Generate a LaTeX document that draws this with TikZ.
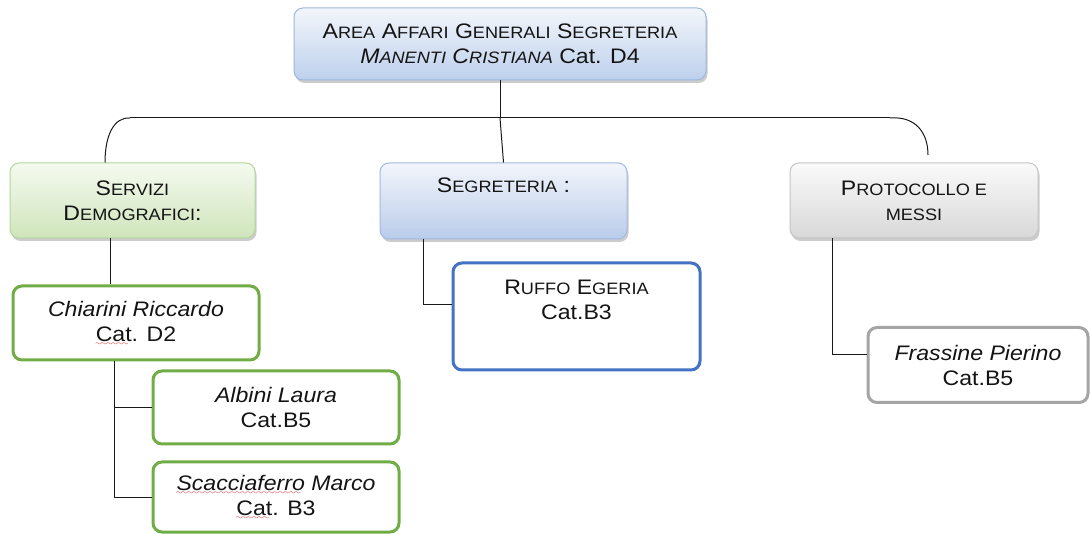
\documentclass[tikz,border=0pt]{standalone}
\usepackage{fontspec}
\setmainfont{Liberation Sans}[FakeStretch=1.1]
\usetikzlibrary{shadows}
\font\sixly=lasy7
\newcommand\redwave[1]{\leavevmode\setbox0\hbox{#1}\rlap{\copy0}\textcolor{red!85!black}{\lower4pt\hbox to\wd0{\leaders\hbox{\sixly\char58}\hfill}}}
\newcommand\smc[1]{{\fontsize{16.5}{25}\selectfont #1}}
\definecolor{topA}{HTML}{F3F6FB}\definecolor{topB}{HTML}{BDD0EC}\definecolor{topD}{HTML}{9CB6DC}
\definecolor{gA}{HTML}{F5FAF0}\definecolor{gB}{HTML}{CFE5BB}\definecolor{gD}{HTML}{B3D69A}
\definecolor{bA}{HTML}{F2F5FB}\definecolor{bB}{HTML}{BACCEB}\definecolor{bD}{HTML}{A2B9E2}
\definecolor{yA}{HTML}{FAFAFA}\definecolor{yB}{HTML}{D8D8D8}\definecolor{yD}{HTML}{C4C4C4}
\definecolor{pgreen}{HTML}{70AD47}\definecolor{pblue}{HTML}{4472C4}\definecolor{pgray}{HTML}{A5A5A5}
\definecolor{txt}{HTML}{141414}
\tikzset{
  base/.style={rectangle, rounded corners=9pt, align=center, inner sep=2pt,
    font=\fontsize{21}{25}\selectfont, text=txt},
  lvl/.style={base, line width=1pt, minimum width=246pt, minimum height=75pt,
    drop shadow={shadow xshift=1.5pt, shadow yshift=-3pt, opacity=0.4}},
  topbox/.style={lvl, draw=topD, top color=topA, bottom color=topB},
  greenbox/.style={lvl, draw=gD, top color=gA, bottom color=gB},
  bluebox/.style={lvl, draw=bD, top color=bA, bottom color=bB},
  graybox/.style={lvl, draw=yD, top color=yA, bottom color=yB},
  person/.style={base, fill=white, line width=3pt, minimum width=246pt, minimum height=73pt},
  conn/.style={draw=black!90, line width=1pt}
}
\begin{document}
\begin{tikzpicture}[x=1pt,y=-1pt]
\useasboundingbox (0,0) rectangle (1090,534);
% level nodes
\node[topbox, minimum width=412pt, minimum height=72pt] (top) at (500,44)
  {A\smc{REA} A\smc{FFARI} G\smc{ENERALI} S\smc{EGRETERIA}\\\textit{M\smc{ANENTI} C\smc{RISTIANA}} Cat. D4};
\node[greenbox, minimum width=245pt] (serv) at (132.5,200.5) {S\smc{ERVIZI}\\D\smc{EMOGRAFICI}:};
\node[bluebox, minimum width=247pt, minimum height=76pt] (segr) at (503.5,201) {S\smc{EGRETERIA} :\\\strut};
\node[graybox, minimum width=248pt] (prot) at (914,200.5) {P\smc{ROTOCOLLO E}\\\smc{MESSI}};
% persons
\node[person, draw=pgreen, minimum height=74pt] (chi) at (136,323) {\textit{Chiarini Riccardo}\\\redwave{Cat}. D2};
\node[person, draw=pgreen] (alb) at (276,407.5) {\textit{Albini Laura}\\Cat.B5};
\node[person, draw=pgreen, minimum height=70pt] (sca) at (276,497) {\redwave{\textit{Scacciaferro}} \textit{Marco}\\\redwave{Cat}. B3};
\node[person, draw=pblue, minimum width=247pt, minimum height=107pt] (ruf) at (576.5,316.5) {R\smc{UFFO} E\smc{GERIA}\\Cat.B3\\\strut};
\node[person, draw=pgray, minimum width=220pt, minimum height=75pt] (fra) at (978,365) {\textit{Frassine Pierino}\\Cat.B5};
% connector coordinates
\coordinate (hub) at (500,118);
\coordinate (barL) at (130,118);
\coordinate (barR) at (890,118);
\coordinate (sx) at (105,0);
\coordinate (protEnd) at (928,155);
\coordinate (sx2) at (110,0);
\coordinate (cx) at (114,0);
\coordinate (gx) at (423,305);
\coordinate (px) at (832,355);
% connectors
\draw[conn] (top.south) -- (hub);
\draw[conn] (barL) -- (barR);
\draw[conn] (hub) -- (segr.north);
\draw[conn] (barL) .. controls (114,117) and (105,135) .. (serv.north -| sx);
\draw[conn] (barR) .. controls (915,116) and (928,132) .. (protEnd);
\draw[conn] (serv.south -| sx2) -- (chi.north -| sx2);
\draw[conn] (chi.south -| cx) |- (alb.west);
\draw[conn] (chi.south -| cx) |- (sca.west);
\draw[conn] (segr.south -| gx) |- (ruf.west |- gx);
\draw[conn] (prot.south -| px) |- (fra.west |- px);
\end{tikzpicture}
\end{document}
